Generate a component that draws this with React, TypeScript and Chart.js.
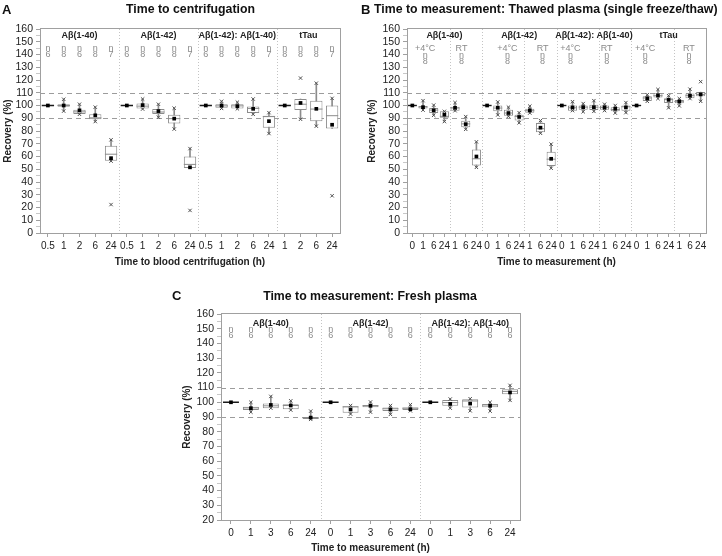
import React, { useEffect, useRef } from 'react';
import { Chart, registerables } from 'chart.js';
Chart.register(...registerables);

const FONT = '"Liberation Sans", Arial, Helvetica, sans-serif';
Chart.defaults.font.family = FONT;

// ---------------- Panel A: Time to centrifugation ----------------
const A_LABELS = ['0.5', '1', '2', '6', '24', '0.5', '1', '2', '6', '24', '0.5', '1', '2', '6', '24', '1', '2', '6', '24'];
const A_Q1 = [100, 99, 93.3, 89.2, 56.7, 100, 97.7, 93.3, 85.9, 51, 100, 98.2, 97.7, 94.1, 82.6, 100, 96.4, 87.7, 82];
const A_MED = [100, 100, 95, 90.3, 61.8, 100, 99.5, 94.9, 89.7, 53.8, 100, 99.7, 99.7, 97.7, 91.3, 100, 101, 97.2, 92];
const A_Q3 = [100, 101, 96.7, 93.1, 68.5, 100, 101.5, 97.2, 92.8, 60, 100, 101, 101, 99.2, 92, 100, 105.1, 103.8, 100];
const A_MEAN = [100, 100, 96.2, 92.3, 58.7, 100, 100.3, 95.6, 89.7, 51.5, 100, 100, 99.5, 97.4, 87.7, 100, 102, 97.4, 84.9];
const A_LO = [100, 95.6, 93.1, 87.4, 56.4, 100, 97.2, 90.8, 81.5, 51, 100, 97.7, 97.4, 93.1, 78, 100, 89.2, 83.8, 82];
const A_HI = [100, 104.9, 101, 98.7, 73.1, 100, 105.1, 101, 97.9, 66.2, 100, 103.3, 102.6, 105.1, 94.4, 100, 105.1, 117.5, 105.6];
const A_XLO = [null, 95.6, 93.1, 87.4, 56.4, null, 97.2, 90.8, 81.5, null, null, 97.7, 97.4, 93.1, 78, null, 89.2, 83.8, null];
const A_XHI = [null, 104.9, 101, 98.7, 73.1, null, 105.1, 101, 97.9, 66.2, null, 103.3, 102.6, 105.1, 94.4, null, null, 117.5, 105.6];
const A_XOUT = [null, null, null, null, 22.3, null, null, null, null, 17.7, null, null, null, null, null, null, 121.5, null, 29.2];
const A_N = ['6', '8', '6', '8', '7', '6', '8', '6', '8', '7', '6', '8', '6', '8', '7', '8', '8', '8', '7'];
const A_GROUPS = ['Aβ(1-40)', 'Aβ(1-42)', 'Aβ(1-42): Aβ(1-40)', 'tTau'];
const A_GROUP_SPANS = [[0, 4], [5, 9], [10, 14], [15, 18]];
const A_SEPS = [4.5, 9.5, 14.5];

// ---------------- Panel B: Thawed plasma ----------------
const B_LABELS = ['0', '1', '6', '24', '1', '6', '24', '0', '1', '6', '24', '1', '6', '24', '0', '1', '6', '24', '1', '6', '24', '0', '1', '6', '24', '1', '6', '24'];
const B_Q1 = [100, 97.7, 94.1, 90.3, 95.9, 83, 53, 100, 95.4, 92, 88.2, 94.4, 79, 52.6, 100, 95.9, 96.7, 96.4, 96.7, 95.4, 95.9, 100, 103.6, 106.2, 102, 101.8, 105.6, 107.2];
const B_MED = [100, 98.9, 96.4, 91.5, 98, 85.6, 58.2, 100, 98, 94.1, 91.3, 95.9, 81.8, 57.9, 100, 98.2, 98.7, 98.7, 98.5, 96.9, 99, 100, 105.9, 107.7, 104.6, 103.3, 107.7, 108.7];
const B_Q3 = [100, 99.7, 98, 95.4, 99, 88, 65.4, 100, 100, 96.7, 92.8, 97.4, 86.2, 63.8, 100, 100, 100, 100.5, 100, 98.7, 100, 100, 107.2, 109.7, 105.6, 104.4, 109.5, 110.5];
const B_MEAN = [100, 98.7, 96.2, 92.8, 98.2, 85.4, 60, 100, 98.2, 94.1, 91, 96.2, 82.6, 58.2, 100, 98.5, 98.7, 98.7, 98.5, 97.4, 98.5, 100, 105.6, 108, 104.4, 103.1, 107.7, 108.7];
const B_LO = [100, 96.4, 92.3, 87.4, 95.9, 81.3, 51.5, 100, 92.6, 91.5, 86.4, 94.1, 78.2, 50.8, 100, 96, 95.1, 95.4, 96, 94.1, 94.4, 100, 103.3, 105.4, 98.2, 99.7, 105.4, 103.3];
const B_HI = [100, 103.8, 100.3, 95.4, 102.3, 91.3, 71.5, 100, 102.8, 98.7, 94.4, 99.5, 88.2, 69.7, 100, 103, 101.5, 103.8, 101, 100, 102.3, 100, 108.5, 112.6, 107.7, 105.4, 112.8, 110.5];
const B_XLO = [null, 96.4, 92.3, 87.4, 95.9, 81.3, 51.5, null, 92.6, 91.5, 86.4, 94.1, 78.2, 50.8, null, 96, 95.1, 95.4, 96, 94.1, 94.4, null, 103.3, 105.4, 98.2, 99.7, 105.4, 103.3];
const B_XHI = [null, 103.8, 100.3, 95.4, 102.3, 91.3, 71.5, null, 102.8, 98.7, 94.4, 99.5, 88.2, 69.7, null, 103, 101.5, 103.8, 101, 100, 102.3, null, 108.5, 112.6, 107.7, 105.4, 112.8, null];
const B_XOUT = [null, null, null, null, null, null, null, null, null, null, null, null, null, null, null, null, null, null, null, null, null, null, null, null, null, null, null, 118.7];
const B_GROUPS = ['Aβ(1-40)', 'Aβ(1-42)', 'Aβ(1-42): Aβ(1-40)', 'tTau'];
const B_GROUP_SPANS = [[0, 6], [7, 13], [14, 20], [21, 27]];
const B_COND = ['+4°C', 'RT', '+4°C', 'RT', '+4°C', 'RT', '+4°C', 'RT'];
const B_COND_AT = [1.2, 4.6, 8.9, 12.2, 14.8, 18.2, 21.8, 25.9];
const B_COND_N = ['8', '8', '8', '8', '8', '8', '8', '8'];
const B_SEPS = [3.5, 6.5, 10.5, 13.5, 17.5, 20.5, 24.5];

// ---------------- Panel C: Fresh plasma ----------------
const C_LABELS = ['0', '1', '3', '6', '24', '0', '1', '3', '6', '24', '0', '1', '3', '6', '24'];
const C_Q1 = [100, 94.7, 96, 95.3, 88.7, 100, 92.9, 96.7, 94, 94.7, 100, 97.6, 96.4, 96.7, 105.5];
const C_MED = [100, 96.2, 97.6, 97.8, 89.3, 100, 96.9, 97.6, 95.6, 96, 100, 99.8, 100.9, 98.2, 107.4];
const C_Q3 = [100, 96.9, 99.1, 98.7, 90, 100, 97.3, 98.2, 96.4, 96.4, 100, 101.6, 102, 98.9, 108.9];
const C_MEAN = [100, 96, 98.2, 97.8, 89.6, 100, 95.1, 97.6, 95.1, 95.3, 100, 98.9, 99.1, 97.6, 106.7];
const C_LO = [100, 93.3, 96, 94.7, 88.4, 100, 92, 93.3, 91.8, 94.2, 100, 96, 94.2, 94, 101.3];
const C_HI = [100, 100, 104, 101, 94, 100, 97.8, 100.2, 97.8, 98.4, 100, 102.2, 102.4, 100, 111.5];
const C_XLO = [null, 93.3, 96, 94.7, 88.4, null, 92, 93.3, 91.8, 94.2, null, 96, 94.2, 94, 101.3];
const C_XHI = [null, 100, 104, 101, 94, null, 97.8, 100.2, 97.8, 98.4, null, 102.2, 102.4, 100, 111.5];
const C_XOUT = [null, null, null, null, null, null, null, null, null, null, null, null, null, null, null];
const C_N = ['6', '6', '6', '6', '6', '6', '6', '6', '6', '6', '6', '6', '6', '6', '6'];
const C_GROUPS = ['Aβ(1-40)', 'Aβ(1-42)', 'Aβ(1-42): Aβ(1-40)'];
const C_GROUP_SPANS = [[0, 4], [5, 9], [10, 14]];
const C_SEPS = [4.5, 9.5];

const REF_LINES = [90, 110];
const Y_MAX = 160;

const AXIS = '#a0a0a0';
const BOX = '#8c8c8c';
const TXT = '#222';
const NGRAY = '#8a8a8a';

type Spec = {
  labels: string[];
  q1: number[]; med: number[]; q3: number[]; mean: number[]; lo: number[]; hi: number[];
  xLo: (number | null)[]; xHi: (number | null)[]; xOut: (number | null)[];
  yMin: number; xTitle: string;
  groups: string[]; spans: number[][]; seps: number[];
  nAt?: number[]; nText?: string[]; cond?: string[];
  boxPct: number;
  pad: { left: number; right: number; top: number; bottom: number };
  yWidth: number; xHeight: number; xTitlePadBottom: number;
  tGroup: number; tCond: number; tN: number; tNum: number;
};

function makeConfig(s: Spec): any {
  const n = s.labels.length;
  const isBase = (i: number) => s.q1[i] === s.q3[i];
  const halfBox = (ctx: any) => {
    const ca = ctx.chart.chartArea;
    if (!ca) return 4;
    return ((ca.right - ca.left) / n) * s.boxPct / 2;
  };
  const overlay = {
    id: 'overlay',
    beforeDatasetsDraw(chart: any) {
      const { ctx, chartArea: ca, scales } = chart;
      const x = scales.x, y = scales.y;
      ctx.save();
      ctx.lineWidth = 1;
      ctx.strokeStyle = '#c4c4c4';
      ctx.setLineDash([1, 2]);
      for (const sp of s.seps) {
        const px = Math.round(x.getPixelForValue(sp)) + 0.5;
        ctx.beginPath(); ctx.moveTo(px, ca.top); ctx.lineTo(px, ca.bottom); ctx.stroke();
      }
      ctx.strokeStyle = '#9c9c9c';
      ctx.setLineDash([5, 4]);
      for (const r of REF_LINES) {
        const py = Math.round(y.getPixelForValue(r)) + 0.5;
        ctx.beginPath(); ctx.moveTo(ca.left, py); ctx.lineTo(ca.right, py); ctx.stroke();
      }
      ctx.restore();
    },
    afterDraw(chart: any) {
      const { ctx, chartArea: ca, scales } = chart;
      const x = scales.x;
      ctx.save();
      ctx.strokeStyle = AXIS;
      ctx.lineWidth = 1;
      ctx.strokeRect(Math.round(ca.left) + 0.5, Math.round(ca.top) - 0.5, Math.round(ca.right - ca.left), Math.round(ca.bottom - ca.top) + 1);
      ctx.textAlign = 'center';
      ctx.textBaseline = 'middle';
      ctx.fillStyle = TXT;
      ctx.font = `bold 9px ${FONT}`;
      s.groups.forEach((g, i) => {
        const [a, b] = s.spans[i];
        const cx = (x.getPixelForValue(a) + x.getPixelForValue(b)) / 2;
        ctx.fillText(g, cx, ca.top + s.tGroup);
      });
      ctx.font = `9px ${FONT}`;
      ctx.fillStyle = NGRAY;
      const at = s.nAt || s.labels.map((_, i) => i);
      at.forEach((p, i) => {
        const cx = x.getPixelForValue(p);
        if (s.cond) ctx.fillText(s.cond[i], cx, ca.top + s.tCond);
        ctx.fillText('n', cx, ca.top + s.tN);
        ctx.fillText(s.nText ? s.nText[i] : '', cx, ca.top + s.tNum);
      });
      ctx.restore();
    },
  };

  return {
    type: 'bar',
    data: {
      labels: s.labels,
      datasets: [
        {
          type: 'bar', label: 'whisker', order: 6, grouped: false,
          data: s.lo.map((v, i) => [v, s.hi[i]]),
          backgroundColor: BOX, borderWidth: 0, barThickness: 1,
        },
        {
          type: 'bar', label: 'box', order: 5, grouped: false,
          data: s.q1.map((v, i) => [v, s.q3[i]]),
          backgroundColor: '#ffffff', borderColor: BOX, borderWidth: 1, borderSkipped: false,
          categoryPercentage: 1, barPercentage: s.boxPct,
        },
        {
          type: 'line', label: 'median', order: 4, showLine: false,
          data: s.med,
          pointStyle: 'line',
          pointRadius: halfBox,
          pointBorderColor: (ctx: any) => (isBase(ctx.dataIndex) ? '#1a1a1a' : BOX),
          pointBorderWidth: (ctx: any) => (isBase(ctx.dataIndex) ? 1.4 : 1),
        },
        {
          type: 'line', label: 'xhi', order: 3, showLine: false,
          data: s.xHi, pointStyle: 'crossRot', pointRadius: 2.4, pointBorderColor: '#505050', pointBorderWidth: 1,
        },
        {
          type: 'line', label: 'xlo', order: 3, showLine: false,
          data: s.xLo, pointStyle: 'crossRot', pointRadius: 2.4, pointBorderColor: '#505050', pointBorderWidth: 1,
        },
        {
          type: 'line', label: 'xout', order: 3, showLine: false,
          data: s.xOut, pointStyle: 'crossRot', pointRadius: 2.4, pointBorderColor: '#505050', pointBorderWidth: 1,
        },
        {
          type: 'line', label: 'mean', order: 1, showLine: false,
          data: s.mean, pointStyle: 'rect', pointRadius: 2.6, pointBackgroundColor: '#000', pointBorderWidth: 0,
        },
      ],
    },
    options: {
      animation: false,
      responsive: false,
      devicePixelRatio: 1,
      events: [],
      layout: { padding: s.pad },
      plugins: { legend: { display: false }, tooltip: { enabled: false }, title: { display: false } },
      scales: {
        x: {
          offset: true,
          afterFit: (sc: any) => { sc.height = s.xHeight; },
          border: { display: true, color: AXIS },
          grid: { drawOnChartArea: false, offset: false, drawTicks: true, tickLength: 4, tickColor: AXIS },
          ticks: { autoSkip: false, maxRotation: 0, minRotation: 0, color: TXT, font: { size: 10, family: FONT }, padding: 3 },
          title: { display: true, text: s.xTitle, color: TXT, font: { size: 10, weight: 'bold', family: FONT }, padding: { top: 2, bottom: s.xTitlePadBottom } },
        },
        y: {
          min: s.yMin, max: Y_MAX,
          afterFit: (sc: any) => { sc.width = s.yWidth; },
          border: { display: true, color: AXIS },
          grid: {
            drawOnChartArea: false, drawTicks: true, tickLength: 4,
            tickColor: (c: any) => (c.tick && c.tick.value % 10 === 0 ? AXIS : '#c8c8c8'),
          },
          ticks: {
            stepSize: 5, autoSkip: false, color: TXT, font: { size: 10.5, family: FONT }, padding: 3,
            callback: (v: any) => (Number(v) % 10 === 0 ? String(v) : ''),
          },
          title: { display: true, text: 'Recovery (%)', color: TXT, font: { size: 10, weight: 'bold', family: FONT }, padding: { top: 2, bottom: 2 } },
        },
      },
    },
    plugins: [overlay],
  };
}

const SPEC_A: Spec = {
  labels: A_LABELS, q1: A_Q1, med: A_MED, q3: A_Q3, mean: A_MEAN, lo: A_LO, hi: A_HI,
  xLo: A_XLO, xHi: A_XHI, xOut: A_XOUT, yMin: 0, xTitle: 'Time to blood centrifugation (h)',
  groups: A_GROUPS, spans: A_GROUP_SPANS, seps: A_SEPS, nText: A_N, boxPct: 0.78,
  pad: { left: 0, right: 20, top: 29, bottom: 8 }, yWidth: 40, xHeight: 39, xTitlePadBottom: 4,
  tGroup: 7, tCond: 0, tN: 20, tNum: 26,
};
const SPEC_B: Spec = {
  labels: B_LABELS, q1: B_Q1, med: B_MED, q3: B_Q3, mean: B_MEAN, lo: B_LO, hi: B_HI,
  xLo: B_XLO, xHi: B_XHI, xOut: B_XOUT, yMin: 0, xTitle: 'Time to measurement (h)',
  groups: B_GROUPS, spans: B_GROUP_SPANS, seps: B_SEPS, nAt: B_COND_AT, nText: B_COND_N, cond: B_COND, boxPct: 0.85,
  pad: { left: 4, right: 16, top: 29, bottom: 8 }, yWidth: 43, xHeight: 39, xTitlePadBottom: 4,
  tGroup: 7, tCond: 20, tN: 27, tNum: 33,
};
const SPEC_C: Spec = {
  labels: C_LABELS, q1: C_Q1, med: C_MED, q3: C_Q3, mean: C_MEAN, lo: C_LO, hi: C_HI,
  xLo: C_XLO, xHi: C_XHI, xOut: C_XOUT, yMin: 20, xTitle: 'Time to measurement (h)',
  groups: C_GROUPS, spans: C_GROUP_SPANS, seps: C_SEPS, nText: C_N, boxPct: 0.8,
  pad: { left: 19, right: 40, top: 34, bottom: 0 }, yWidth: 42, xHeight: 36, xTitlePadBottom: 2,
  tGroup: 10, tCond: 0, tN: 16, tNum: 22,
};

function Panel({ spec, left, top, width, height }: { spec: Spec; left: number; top: number; width: number; height: number }) {
  const ref = useRef<HTMLCanvasElement>(null);
  useEffect(() => {
    const chart = new Chart(ref.current as HTMLCanvasElement, makeConfig(spec));
    return () => chart.destroy();
  }, [spec]);
  return (
    <canvas ref={ref} width={width} height={height}
      style={{ position: 'absolute', left, top, width, height, display: 'block' }} />
  );
}

const headStyle: React.CSSProperties = {
  position: 'absolute', fontFamily: FONT, fontWeight: 'bold', color: '#111', whiteSpace: 'nowrap', lineHeight: '1',
};

export default function App() {
  return (
    <div style={{ position: 'absolute', left: 0, top: 0, width: 722, height: 556, overflow: 'hidden', background: '#fff' }}>
      <Panel spec={SPEC_A} left={0} top={0} width={360} height={280} />
      <Panel spec={SPEC_B} left={360} top={0} width={362} height={280} />
      <Panel spec={SPEC_C} left={160} top={280} width={400} height={276} />
      <div style={{ ...headStyle, left: 2, top: 3, fontSize: 13 }}>A</div>
      <div style={{ ...headStyle, left: 0, width: 381, top: 3, fontSize: 12.3, textAlign: 'center' }}>Time to centrifugation</div>
      <div style={{ ...headStyle, left: 361, top: 3, fontSize: 13 }}>B</div>
      <div style={{ ...headStyle, left: 374, top: 3, fontSize: 12.3 }}>Time to measurement: Thawed plasma (single freeze/thaw)</div>
      <div style={{ ...headStyle, left: 172, top: 289, fontSize: 13 }}>C</div>
      <div style={{ ...headStyle, left: 220, width: 300, top: 290, fontSize: 12.3, textAlign: 'center' }}>Time to measurement: Fresh plasma</div>
    </div>
  );
}
